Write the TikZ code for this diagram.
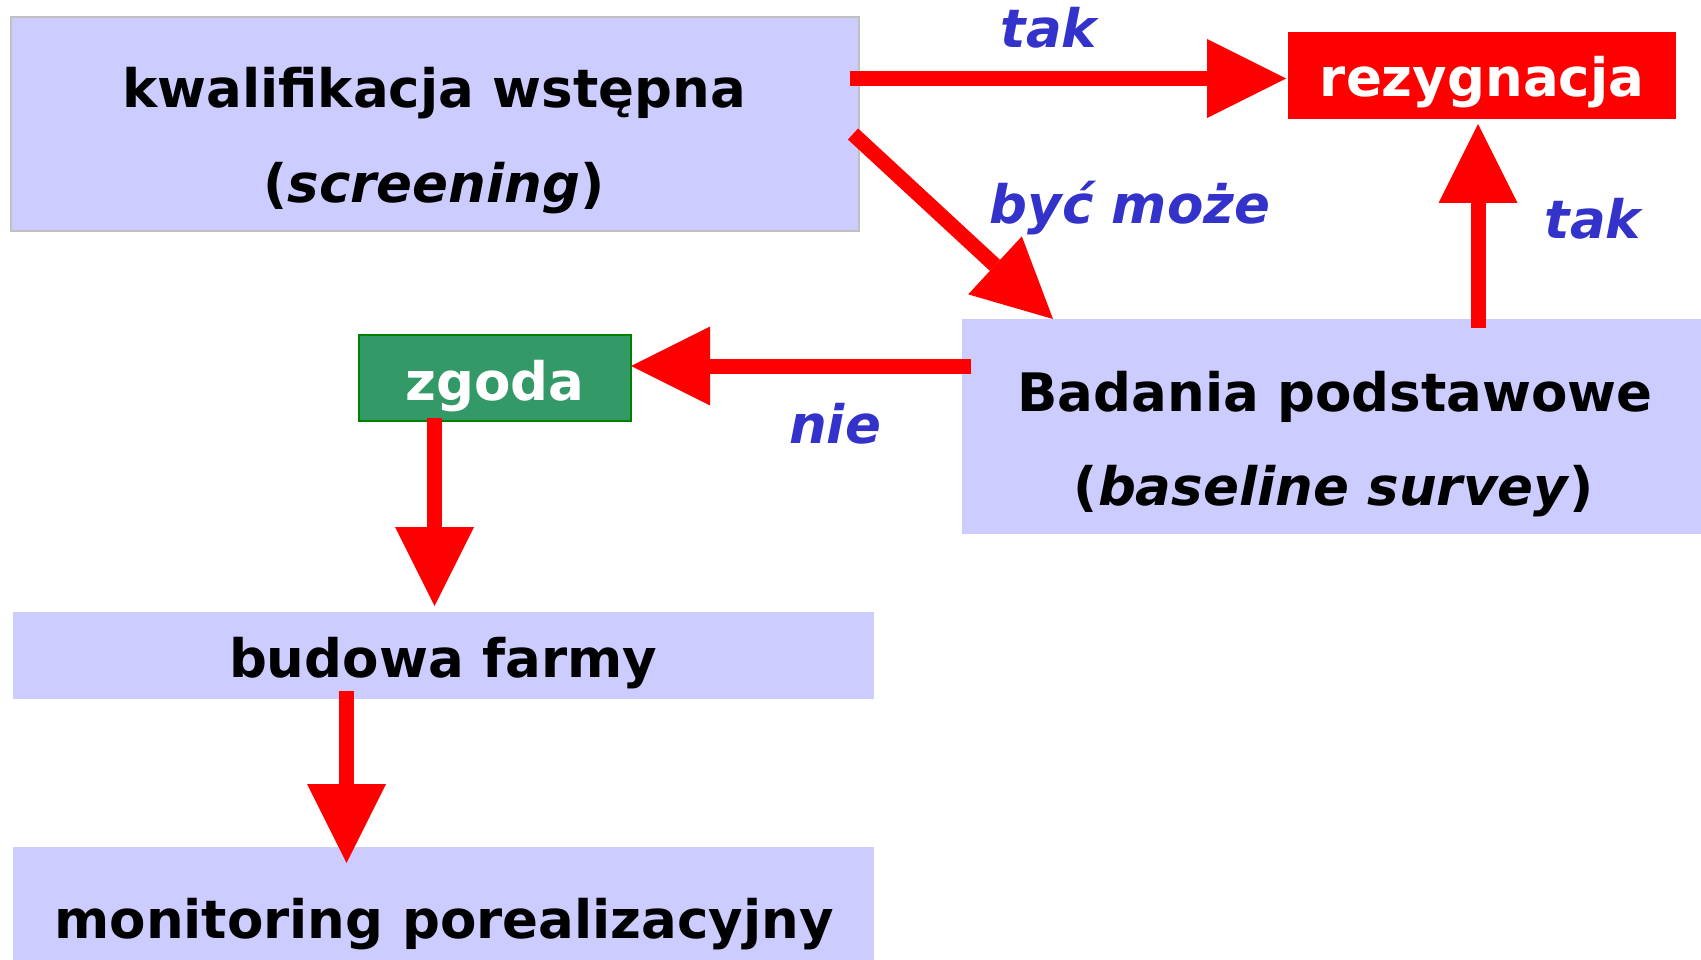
\documentclass[tikz,border=0pt]{standalone}
\usepackage{fontspec}
\setmainfont{DejaVu Sans}
\usetikzlibrary{arrows.meta,calc}
\definecolor{boxblue}{HTML}{CCCCFF}
\definecolor{zgreen}{HTML}{339966}
\definecolor{zborder}{HTML}{008000}
\definecolor{lblue}{HTML}{3333CC}
\definecolor{kborder}{HTML}{C0C0C0}
\definecolor{arred}{HTML}{FF0000}
\begin{document}
\begin{tikzpicture}[x=1pt,y=-1pt,
  box/.style={rectangle,inner sep=0pt,outer sep=0pt,anchor=north west,fill=boxblue},
  txt/.style={anchor=base,inner sep=0pt,font=\fontsize{53}{60}\selectfont\bfseries},
  lbl/.style={anchor=base,inner sep=0pt,text=lblue,font=\fontsize{53}{60}\selectfont\bfseries\itshape},
  arr/.style={draw=arred,line width=15pt,-{Triangle[width=79pt,length=79pt,line width=0pt]}}]
\useasboundingbox (0,0) rectangle (1701,960);
% boxes
\node[box,draw=kborder,line width=2pt,minimum width=848pt,minimum height=214pt] (k) at (11,17) {};
\node[box,fill=arred,minimum width=388pt,minimum height=87pt] (r) at (1288,32) {};
\node[box,minimum width=760pt,minimum height=215pt] (b) at (962,319) {};
\node[box,fill=zgreen,draw=zborder,line width=2pt,minimum width=272pt,minimum height=86pt] (z) at (359,335) {};
\node[box,minimum width=861pt,minimum height=87pt] (bu) at (13,612) {};
\node[box,minimum width=861pt,minimum height=130pt] (m) at (13,847) {};
% box texts
\node[txt] (k1) at (434,108) {kwalifikacja wstępna};
\node[txt] (k2) at (434,203) {(\textit{screening})};
\node[txt,text=white] (rt) at (1482,97) {rezygnacja};
\node[txt] (b1) at (1335,411) {Badania podstawowe};
\node[txt] (b2) at (1334,505) {(\textit{baseline survey})};
\node[txt,text=white] (zt) at (495,400) {zgoda};
\node[txt] (but) at (443,677) {budowa farmy};
\node[txt] (mt) at (444,938) {monitoring porealizacyjny};
% connectors
\draw[arr] ($(k.east|-r.west)+(-9,3)$) -- ($(r.west)+(-2,3)$);
\draw[arr] ($(k.east)+(-6,10)$) -- ($(b.north west)+(91,0)$);
\draw[arr] ($(b.north -| r.south)+(-4,9)$) -- ($(r.south)+(-4,5)$);
\draw[arr] ($(b.north west)+(9,47)$) -- ($(z.east)+(0,-12)$);
\draw[arr] ($(z.south)+(-60.5,-3)$) -- ($(bu.north west)+(421.5,-6)$);
\draw[arr] ($(bu.south west)+(333.5,-8)$) -- ($(m.north west)+(333.5,16)$);
% labels
\node[lbl] (l1) at (1049,48) {tak};
\node[lbl] (l2) at (1130,224) {być może};
\node[lbl] (l3) at (1593,239) {tak};
\node[lbl] (l4) at (835,443) {nie};
\end{tikzpicture}
\end{document}
